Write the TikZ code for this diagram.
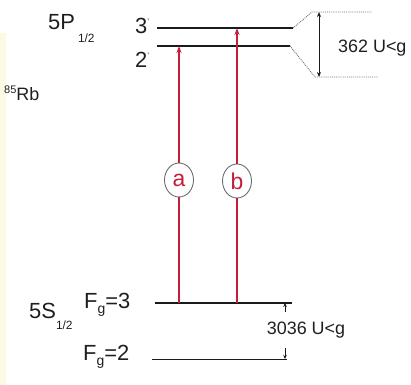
\documentclass[tikz,border=0pt]{standalone}
\usepackage{fontspec}
\setmainfont{Liberation Sans}
\usetikzlibrary{arrows.meta,positioning,shapes.geometric,calc}
\definecolor{cLas}{HTML}{C41E3A}
\definecolor{cLvl}{HTML}{1A1A1A}
\definecolor{cTxt}{HTML}{1E1E1E}
\definecolor{cDim}{HTML}{6E6E6E}
\definecolor{cBar}{HTML}{FCFAE2}
\tikzset{
  lvl/.style    ={draw=cLvl,line width=1.6bp},
  lvlthin/.style={draw=cLvl,line width=1bp},
  lasstem/.style={draw=cLas,line width=1.6bp},
  las/.style    ={lasstem,-{Stealth[length=7bp,width=5bp]}},
  ring/.style   ={ellipse,draw=cDim,line width=0.9bp,fill=white,inner sep=0pt,
                  minimum width=29bp,minimum height=34bp,text=cLas,
                  font=\fontsize{23}{23}\selectfont},
  gap/.style    ={draw=cDim,densely dotted,line width=0.9bp},
  dim/.style    ={{Stealth[length=5bp,width=4bp]}-{Stealth[length=5bp,width=4bp]},
                  draw=cLvl,line width=0.9bp},
  dimhalf/.style={-{Stealth[length=4bp,width=3.5bp]},draw=cLvl,line width=0.9bp},
  big/.style    ={font=\fontsize{22}{22}\selectfont,text=cTxt,inner sep=0pt},
  freq/.style   ={font=\fontsize{18}{18}\selectfont,text=cTxt,inner sep=0pt},
}
\newcommand{\lowsub}[3]{\raisebox{#1}{\fontsize{#2}{#2}\selectfont #3}}

\begin{document}
\begin{tikzpicture}[x=1bp,y=1bp]
\useasboundingbox (0,0) rectangle (411,-385);
\fill[cBar] (0,-33) rectangle (6,-385);

% term labels, placed on their baselines
\node[big,anchor=base west] (p5)  at (48,-29)  {5P\hspace{3bp}\lowsub{-13bp}{12}{1/2}};
\node[big,anchor=base west] (n3)  at (135,-33) {3\lowsub{9bp}{8}{'}};
\node[big,anchor=base west] (n2)  at (135,-67) {2\lowsub{9bp}{8}{'}};
\node[big,font=\fontsize{18}{18}\selectfont,anchor=base west] (iso) at (4,-100)
  {\lowsub{7bp}{11}{85}Rb};
\node[big,anchor=base west] (s5)  at (29,-318) {5S\lowsub{-11bp}{12}{1/2}};
\node[big,anchor=base west] (f3)  at (84,-308) {F\lowsub{-5bp}{14}{g}=3};
\node[big,anchor=base west] (f2)  at (83,-360) {F\lowsub{-5bp}{14}{g}=2};

% hyperfine levels
\coordinate (p3w) at (157,-28);  \coordinate (p3e) at (293,-28);
\coordinate (p2w) at (157,-46);  \coordinate (p2e) at (290,-46);
\coordinate (s3w) at (155,-303); \coordinate (s3e) at (292,-303);
\coordinate (s2w) at (152,-359); \coordinate (s2e) at (287,-359);
\draw[lvl] (p3w) -- (p3e);
\draw[lvl] (p2w) -- (p2e);
\draw[lvl] (s3w) -- (s3e);
\draw[lvlthin] (s2w) -- (s2e);

% excited-state splitting
\coordinate (gtop) at (312,-12);
\coordinate (gbot) at (315,-77);
\coordinate (dimx) at (319,0);
\draw[gap] (p3e) -- (gtop) -- ++(60,0);
\draw[gap] (p2e) -- (gbot) -- ++(63,0);
\draw[dim] (gtop -| dimx) -- (gbot -| dimx);
\node[freq,anchor=west] (hfp) at (338,-48) {362 U<g};

% ground-state splitting
\node[freq] (hfs) at (306,-330) {3036 U<g};
\coordinate (t3) at (285,-312);
\coordinate (t2) at (285,-348);
\draw[dimhalf] (t3) -- (s3w -| t3);
\draw[dimhalf] (t2) -- (s2w -| t2);

% pump transitions
\node[ring] (ra) at (179,-180) {a};
\node[ring] (rbn) at (237,-181) {b};
\draw[lasstem] (s3w -| ra) -- (ra.south);
\draw[las] (ra.north) -- (p2w -| ra);
\draw[lasstem] (s3w -| rbn) -- (rbn.south);
\draw[las] (rbn.north) -- (p3w -| rbn);
\end{tikzpicture}
\end{document}
